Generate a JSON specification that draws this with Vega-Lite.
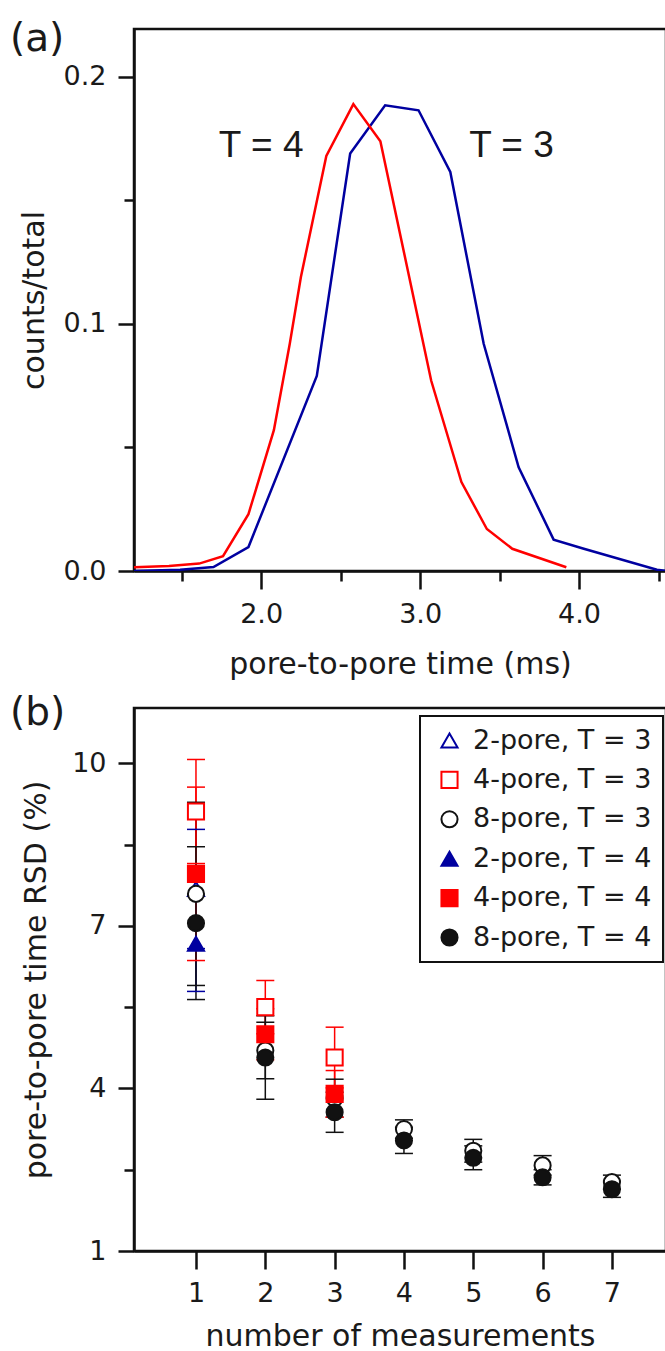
{
  "$schema": "https://vega.github.io/schema/vega-lite/v6.json",
  "background": "white",
  "padding": {"left": 8, "top": 18, "right": 0, "bottom": 0},
  "spacing": 11,
  "resolve": {
    "scale": {"color": "independent"},
    "legend": {"color": "independent"}
  },
  "config": {
    "view": {"stroke": "#111111", "strokeWidth": 2.5},
    "axis": {
      "domainColor": "#111111", "domainWidth": 2.5,
      "tickColor": "#111111", "tickWidth": 2.5,
      "labelFont": "DejaVu Sans", "labelFontSize": 27, "labelColor": "#1a1a1a",
      "titleFont": "DejaVu Sans", "titleFontSize": 30, "titleFontWeight": "normal", "titleColor": "#1a1a1a",
      "grid": false, "labelOverlap": false, "labelFlush": false
    },
    "title": {"font": "DejaVu Sans", "fontSize": 39, "fontWeight": "normal", "color": "#1a1a1a", "anchor": "start", "frame": "group", "baseline": "top", "offset": 0},
    "legend": {
      "labelFont": "DejaVu Sans", "labelFontSize": 27, "labelColor": "#1a1a1a", "labelLimit": 400,
      "symbolSize": 260, "symbolStrokeWidth": 2, "symbolOpacity": 1,
      "padding": 11, "rowPadding": 11.4, "strokeColor": "#111111", "strokeWidth": 2,
      "fillColor": "white", "symbolOffset": 5, "labelOffset": 10
    }
  },
  "vconcat": [
    {
      "width": 532,
      "height": 542,
      "title": {"text": "(a)", "dx": -124, "dy": 34},
      "layer": [
        {
          "data": {"values": [
            {"T": "T = 3", "t": 1.2, "frac": 0.0},
            {"T": "T = 3", "t": 1.49, "frac": 0.0005},
            {"T": "T = 3", "t": 1.70, "frac": 0.0016},
            {"T": "T = 3", "t": 1.92, "frac": 0.0097},
            {"T": "T = 3", "t": 2.35, "frac": 0.079},
            {"T": "T = 3", "t": 2.56, "frac": 0.169},
            {"T": "T = 3", "t": 2.78, "frac": 0.1885},
            {"T": "T = 3", "t": 2.99, "frac": 0.1865},
            {"T": "T = 3", "t": 3.19, "frac": 0.1615},
            {"T": "T = 3", "t": 3.40, "frac": 0.092},
            {"T": "T = 3", "t": 3.62, "frac": 0.042},
            {"T": "T = 3", "t": 3.84, "frac": 0.0127},
            {"T": "T = 3", "t": 4.03, "frac": 0.009},
            {"T": "T = 3", "t": 4.49, "frac": 0.0005},
            {"T": "T = 3", "t": 4.547, "frac": 0.0},
            {"T": "T = 4", "t": 1.2, "frac": 0.0015},
            {"T": "T = 4", "t": 1.42, "frac": 0.002},
            {"T": "T = 4", "t": 1.61, "frac": 0.003},
            {"T": "T = 4", "t": 1.76, "frac": 0.006},
            {"T": "T = 4", "t": 1.92, "frac": 0.023},
            {"T": "T = 4", "t": 2.08, "frac": 0.057},
            {"T": "T = 4", "t": 2.18, "frac": 0.092},
            {"T": "T = 4", "t": 2.25, "frac": 0.119},
            {"T": "T = 4", "t": 2.41, "frac": 0.168},
            {"T": "T = 4", "t": 2.58, "frac": 0.189},
            {"T": "T = 4", "t": 2.75, "frac": 0.174},
            {"T": "T = 4", "t": 3.07, "frac": 0.077},
            {"T": "T = 4", "t": 3.26, "frac": 0.036},
            {"T": "T = 4", "t": 3.42, "frac": 0.017},
            {"T": "T = 4", "t": 3.58, "frac": 0.009},
            {"T": "T = 4", "t": 3.92, "frac": 0.0015}
          ]},
          "mark": {"type": "line", "strokeWidth": 2.5, "clip": true},
          "encoding": {
            "x": {
              "field": "t", "type": "quantitative",
              "scale": {"domain": [1.2, 4.547], "nice": false, "zero": false},
              "axis": {
                "title": "pore-to-pore time (ms)",
                "values": [1.5, 2, 2.5, 3, 3.5, 4, 4.5],
                "labelExpr": "datum.value % 1 == 0 ? format(datum.value, '.1f') : ''",
                "tickSize": {"condition": {"test": "datum.value % 1 != 0", "value": 10}, "value": 18},
                "labelPadding": 12,
                "titlePadding": 22
              }
            },
            "y": {
              "field": "frac", "type": "quantitative",
              "scale": {"domain": [0, 0.2194], "nice": false, "zero": false},
              "axis": {
                "title": "counts/total",
                "values": [0, 0.05, 0.1, 0.15, 0.2],
                "labelExpr": "(datum.value == 0.05 || datum.value == 0.15) ? '' : format(datum.value, '.1f')",
                "tickSize": {"condition": {"test": "datum.value == 0.05 || datum.value == 0.15", "value": 10}, "value": 16},
                "labelPadding": 12,
                "titlePadding": 14
              }
            },
            "color": {
              "field": "T", "type": "nominal",
              "scale": {"domain": ["T = 3", "T = 4"], "range": ["#0000A0", "#FF0000"]},
              "legend": null
            }
          }
        },
        {
          "data": {"values": [
            {"label": "T = 4", "t": 2.0, "frac": 0.172},
            {"label": "T = 3", "t": 3.575, "frac": 0.172}
          ]},
          "mark": {"type": "text", "font": "Liberation Sans", "fontSize": 37, "color": "#1a1a1a", "align": "center", "baseline": "middle"},
          "encoding": {
            "x": {"field": "t", "type": "quantitative"},
            "y": {"field": "frac", "type": "quantitative"},
            "text": {"field": "label"}
          }
        }
      ]
    },
    {
      "width": 532,
      "height": 543,
      "title": {"text": "(b)", "dx": -124, "dy": 29},
      "data": {"values": [
        {"series": "2-pore, T = 3", "n": 1, "rsd": 7.68, "lo": 6.58, "hi": 8.78},
        {"series": "4-pore, T = 3", "n": 1, "rsd": 9.11, "lo": 8.15, "hi": 10.07},
        {"series": "4-pore, T = 3", "n": 2, "rsd": 5.50, "lo": 5.01, "hi": 5.99},
        {"series": "4-pore, T = 3", "n": 3, "rsd": 4.57, "lo": 4.01, "hi": 5.13},
        {"series": "8-pore, T = 3", "n": 1, "rsd": 7.59, "lo": 5.90, "hi": 9.28},
        {"series": "8-pore, T = 3", "n": 2, "rsd": 4.70, "lo": 4.18, "hi": 5.22},
        {"series": "8-pore, T = 3", "n": 3, "rsd": 3.82, "lo": 3.47, "hi": 4.17},
        {"series": "8-pore, T = 3", "n": 4, "rsd": 3.25, "lo": 3.08, "hi": 3.42},
        {"series": "8-pore, T = 3", "n": 5, "rsd": 2.85, "lo": 2.64, "hi": 3.06},
        {"series": "8-pore, T = 3", "n": 6, "rsd": 2.58, "lo": 2.40, "hi": 2.76},
        {"series": "8-pore, T = 3", "n": 7, "rsd": 2.27, "lo": 2.14, "hi": 2.40},
        {"series": "2-pore, T = 4", "n": 1, "rsd": 6.67, "lo": 5.79, "hi": 7.55},
        {"series": "4-pore, T = 4", "n": 1, "rsd": 7.96, "lo": 6.36, "hi": 9.56},
        {"series": "4-pore, T = 4", "n": 2, "rsd": 5.00, "lo": 4.53, "hi": 5.47},
        {"series": "4-pore, T = 4", "n": 3, "rsd": 3.90, "lo": 3.47, "hi": 4.33},
        {"series": "8-pore, T = 4", "n": 1, "rsd": 7.05, "lo": 5.64, "hi": 8.46},
        {"series": "8-pore, T = 4", "n": 2, "rsd": 4.57, "lo": 3.80, "hi": 5.34},
        {"series": "8-pore, T = 4", "n": 3, "rsd": 3.56, "lo": 3.19, "hi": 3.93},
        {"series": "8-pore, T = 4", "n": 4, "rsd": 3.04, "lo": 2.80, "hi": 3.28},
        {"series": "8-pore, T = 4", "n": 5, "rsd": 2.72, "lo": 2.50, "hi": 2.94},
        {"series": "8-pore, T = 4", "n": 6, "rsd": 2.36, "lo": 2.22, "hi": 2.50},
        {"series": "8-pore, T = 4", "n": 7, "rsd": 2.14, "lo": 1.99, "hi": 2.29}
      ]},
      "encoding": {
        "x": {
          "field": "n", "type": "quantitative",
          "scale": {"domain": [0.106, 7.78], "nice": false, "zero": false},
          "axis": {
            "title": "number of measurements",
            "values": [1, 2, 3, 4, 5, 6, 7],
            "format": "d",
            "tickSize": 18,
            "labelPadding": 11,
            "titlePadding": 15
          }
        }
      },
      "layer": [
        {
          "mark": {"type": "rule", "strokeWidth": 1.5},
          "encoding": {
            "y": {
              "field": "lo", "type": "quantitative",
              "scale": {"domain": [1, 11.02], "nice": false, "zero": false},
              "axis": {
                "title": "pore-to-pore time RSD (%)",
                "values": [1, 2.5, 4, 5.5, 7, 8.5, 10],
                "labelExpr": "(datum.value - 1) % 3 == 0 ? format(datum.value, 'd') : ''",
                "tickSize": {"condition": {"test": "(datum.value - 1) % 3 != 0", "value": 10}, "value": 16},
                "labelPadding": 12,
                "titlePadding": 20
              }
            },
            "y2": {"field": "hi"},
            "color": {
              "field": "series", "type": "nominal",
              "scale": {
                "domain": ["2-pore, T = 3", "4-pore, T = 3", "8-pore, T = 3", "2-pore, T = 4", "4-pore, T = 4", "8-pore, T = 4"],
                "range": ["#0000A0", "#FF0000", "#111111", "#0000A0", "#FF0000", "#111111"]
              },
              "legend": null
            }
          }
        },
        {
          "mark": {"type": "tick", "orient": "horizontal", "size": 18, "thickness": 1.5, "opacity": 1},
          "encoding": {
            "y": {"field": "lo", "type": "quantitative", "title": "pore-to-pore time RSD (%)"},
            "color": {"field": "series", "type": "nominal", "legend": null}
          }
        },
        {
          "mark": {"type": "tick", "orient": "horizontal", "size": 18, "thickness": 1.5, "opacity": 1},
          "encoding": {
            "y": {"field": "hi", "type": "quantitative", "title": "pore-to-pore time RSD (%)"},
            "color": {"field": "series", "type": "nominal", "legend": null}
          }
        },
        {
          "mark": {"type": "point", "size": 260, "strokeWidth": 2, "opacity": 1},
          "encoding": {
            "y": {"field": "rsd", "type": "quantitative", "title": "pore-to-pore time RSD (%)"},
            "shape": {
              "field": "series", "type": "nominal",
              "scale": {
                "domain": ["2-pore, T = 3", "4-pore, T = 3", "8-pore, T = 3", "2-pore, T = 4", "4-pore, T = 4", "8-pore, T = 4"],
                "range": ["triangle-up", "square", "circle", "triangle-up", "square", "circle"]
              },
              "legend": {"title": null, "orient": "none", "legendX": 286, "legendY": 687, "direction": "vertical"}
            },
            "stroke": {
              "field": "series", "type": "nominal",
              "scale": {
                "domain": ["2-pore, T = 3", "4-pore, T = 3", "8-pore, T = 3", "2-pore, T = 4", "4-pore, T = 4", "8-pore, T = 4"],
                "range": ["#0000A0", "#FF0000", "#111111", "#0000A0", "#FF0000", "#111111"]
              },
              "legend": {"title": null, "orient": "none", "legendX": 286, "legendY": 687, "direction": "vertical"}
            },
            "fill": {
              "field": "series", "type": "nominal",
              "scale": {
                "domain": ["2-pore, T = 3", "4-pore, T = 3", "8-pore, T = 3", "2-pore, T = 4", "4-pore, T = 4", "8-pore, T = 4"],
                "range": ["white", "white", "white", "#0000A0", "#FF0000", "#111111"]
              },
              "legend": {"title": null, "orient": "none", "legendX": 286, "legendY": 687, "direction": "vertical"}
            }
          }
        }
      ]
    }
  ]
}
